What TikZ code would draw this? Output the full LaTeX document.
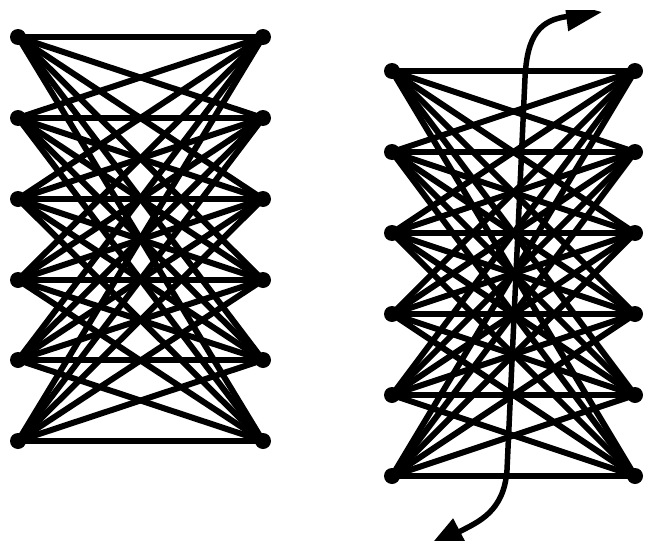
\documentclass[tikz,border=0pt]{standalone}
\usetikzlibrary{arrows.meta}
\begin{document}
\begin{tikzpicture}[x=1pt,y=-1pt,
  dot/.style={circle,fill=black,inner sep=0pt,minimum size=16pt},
  edge/.style={line width=6pt},
  curve/.style={line width=5.5pt,{Triangle[length=36pt,width=28pt]}-{Triangle[length=36pt,width=28pt]}}]
\useasboundingbox (0,0) rectangle (646,541);
\foreach \i/\y in {1/37,2/118,3/199,4/280,5/360,6/441}{
  \node[dot] (a\i) at (18,\y) {};
  \node[dot] (b\i) at (263,\y) {};
}
\foreach \i/\y in {1/71,2/152,3/233,4/314,5/395,6/476}{
  \node[dot] (c\i) at (392,\y) {};
  \node[dot] (d\i) at (635,\y) {};
}
\foreach \i in {1,...,6}{
  \foreach \j in {1,...,6}{
    \draw[edge] (a\i.center) -- (b\j.center);
    \draw[edge] (c\i.center) -- (d\j.center);
  }
}
\coordinate (tB) at (428,548);
\coordinate (tT) at (602,12);
\begin{scope}
\clip (0,10) rectangle (646,541);
\draw[curve] (tB) .. controls (478,522) and (504,512) .. (507,470) -- (525,78) .. controls (527,35) and (540,20) .. (tT);
\end{scope}
\end{tikzpicture}
\end{document}
